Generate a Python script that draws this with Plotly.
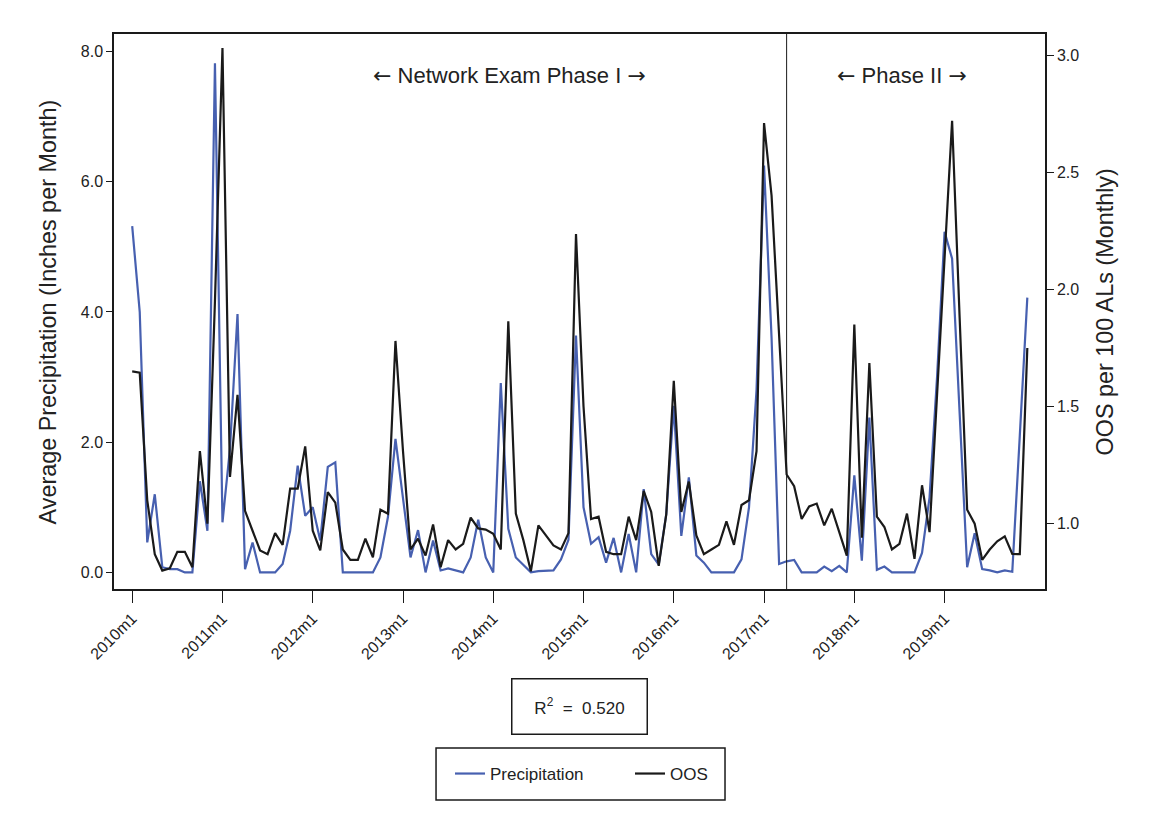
import plotly.graph_objects as go

# Monthly observations, 2010m1 .. 2019m12
months = [f"{yr}m{m}" for yr in range(2010, 2020) for m in range(1, 13)]

# Average precipitation (inches per month)
precipitation = [
    5.32, 4.00, 0.46, 1.20, 0.08, 0.05, 0.05, 0.00, 0.00, 1.40, 0.64, 7.82,
    0.77, 1.90, 3.97, 0.05, 0.46, 0.00, 0.00, 0.00, 0.13, 0.64, 1.64, 0.87,
    1.00, 0.49, 1.62, 1.69, 0.00, 0.00, 0.00, 0.00, 0.00, 0.23, 0.85, 2.05,
    1.10, 0.23, 0.65, 0.00, 0.49, 0.03, 0.06, 0.03, 0.00, 0.23, 0.81, 0.23,
    0.00, 2.91, 0.67, 0.23, 0.12, 0.00, 0.02, 0.03, 0.03, 0.20, 0.50, 3.64,
    1.00, 0.44, 0.54, 0.15, 0.53, 0.00, 0.59, 0.00, 1.28, 0.28, 0.12, 0.90,
    2.56, 0.56, 1.46, 0.26, 0.15, 0.00, 0.00, 0.00, 0.00, 0.20, 1.00, 2.80,
    6.25, 3.60, 0.13, 0.17, 0.19, 0.00, 0.00, 0.00, 0.09, 0.02, 0.10, 0.00,
    1.49, 0.18, 2.38, 0.04, 0.09, 0.00, 0.00, 0.00, 0.00, 0.30, 1.15, 3.00,
    5.23, 4.82, 2.40, 0.08, 0.60, 0.05, 0.03, 0.00, 0.03, 0.01, 2.10, 4.22,
]

# OOS per 100 ALs (monthly)
oos = [
    1.650, 1.645, 1.100, 0.870, 0.800, 0.810, 0.880, 0.880, 0.814, 1.310, 1.000, 1.950,
    3.030, 1.200, 1.550, 1.055, 0.970, 0.886, 0.870, 0.960, 0.910, 1.150, 1.150, 1.330,
    0.970, 0.886, 1.135, 1.090, 0.890, 0.846, 0.846, 0.936, 0.857, 1.060, 1.043, 1.780,
    1.310, 0.890, 0.936, 0.864, 0.997, 0.814, 0.930, 0.890, 0.914, 1.026, 0.980, 0.975,
    0.957, 0.890, 1.864, 1.043, 0.930, 0.797, 0.993, 0.950, 0.907, 0.890, 0.960, 2.236,
    1.500, 1.020, 1.030, 0.880, 0.870, 0.870, 1.030, 0.930, 1.140, 1.050, 0.820, 1.040,
    1.610, 1.050, 1.180, 0.950, 0.870, 0.890, 0.910, 1.010, 0.910, 1.080, 1.100, 1.310,
    2.710, 2.400, 1.780, 1.210, 1.160, 1.020, 1.074, 1.086, 0.993, 1.064, 0.964, 0.864,
    1.850, 0.940, 1.686, 1.030, 0.986, 0.890, 0.914, 1.043, 0.850, 1.164, 0.964, 1.540,
    2.150, 2.720, 1.880, 1.060, 1.000, 0.846, 0.890, 0.925, 0.946, 0.871, 0.870, 1.750,
]

tick_labels = ["2010m1", "2011m1", "2012m1", "2013m1", "2014m1",
               "2015m1", "2016m1", "2017m1", "2018m1", "2019m1"]
phase_break = "2017m4"
r_squared = 0.520

BLUE = "#4760b0"
INK = "#1a1a1a"
FONT = "Liberation Sans, Arial, sans-serif"
ARROW_STYLE = "font-family:DejaVu Sans"
LEFT_ARROW = f'<span style="{ARROW_STYLE}">\u2190</span>'
RIGHT_ARROW = f'<span style="{ARROW_STYLE}">\u2192</span>'

fig = go.Figure()
fig.add_trace(go.Scatter(
    x=months, y=precipitation, name="Precipitation", mode="lines",
    line=dict(color=BLUE, width=2.2), yaxis="y",
))
fig.add_trace(go.Scatter(
    x=months, y=oos, name="OOS", mode="lines",
    line=dict(color=INK, width=2.2), yaxis="y2",
))

# Phase boundary
fig.add_shape(type="line", xref="x", yref="paper", x0=phase_break, x1=phase_break,
              y0=0, y1=1, line=dict(color=INK, width=1))

# Phase captions
fig.add_annotation(x=50.2, y=0.926, xref="x", yref="paper",
                   xanchor="center", yanchor="middle",
                   text=f"{LEFT_ARROW} Network Exam Phase I {RIGHT_ARROW}", showarrow=False,
                   font=dict(size=22, color="#222", family=FONT))
fig.add_annotation(x=102.4, y=0.926, xref="x", yref="paper",
                   xanchor="center", yanchor="middle",
                   text=f"{LEFT_ARROW} Phase II {RIGHT_ARROW}", showarrow=False,
                   font=dict(size=22, color="#222", family=FONT))

# Axis titles
fig.add_annotation(x=-0.0709, y=0.5, xref="paper", yref="paper", textangle=-90,
                   xanchor="center", yanchor="middle",
                   text="Average Precipitation (Inches per Month)", showarrow=False,
                   font=dict(size=23.4, color="#222", family=FONT))
fig.add_annotation(x=1.0644, y=0.5, xref="paper", yref="paper", textangle=-90,
                   xanchor="center", yanchor="middle",
                   text="OOS per 100 ALs (Monthly)", showarrow=False,
                   font=dict(size=23.4, color="#222", family=FONT))

# R-squared box
fig.add_annotation(x=0.5005, y=-0.2117, xref="paper", yref="paper",
                   xanchor="center", yanchor="middle",
                   text=f"R<sup>2</sup>  =  {r_squared:.3f}", showarrow=False,
                   width=132, height=52, borderpad=1, borderwidth=1.5,
                   bordercolor=INK, bgcolor="white",
                   font=dict(size=17, color="#222", family=FONT))

# Frame around the legend
fig.add_shape(type="rect", xref="paper", yref="paper",
              x0=0.3459, x1=0.6563, y0=-0.2865, y1=-0.3802,
              line=dict(color=INK, width=1.5))

fig.update_layout(
    width=1151, height=838,
    margin=dict(l=114, r=106, t=34, b=249),
    paper_bgcolor="white", plot_bgcolor="white",
    font=dict(family=FONT, size=16, color="#222"),
    showlegend=True,
    legend=dict(orientation="h", x=0.3609, y=-0.3333, xanchor="left", yanchor="middle",
                font=dict(size=17, color="#222", family=FONT),
                entrywidth=135, entrywidthmode="pixels",
                bgcolor="rgba(0,0,0,0)", borderwidth=0),
    xaxis=dict(
        type="category", range=[-2.42, 121.35],
        tickmode="array", tickvals=tick_labels, ticktext=tick_labels,
        tickangle=-45, ticks="outside", ticklen=12, tickwidth=1.2, tickcolor=INK,
        showline=True, linecolor=INK, linewidth=1.5, mirror=True,
        showgrid=False, zeroline=False,
        tickfont=dict(size=16, color="#222", family=FONT),
    ),
    yaxis=dict(
        range=[-0.255, 8.27], tickvals=[0, 2, 4, 6, 8], tickformat=".1f",
        ticks="outside", ticklen=6, tickwidth=1.2, tickcolor=INK,
        showline=True, linecolor=INK, linewidth=1.5,
        showgrid=False, zeroline=False,
        tickfont=dict(size=16, color="#222", family=FONT),
    ),
    yaxis2=dict(
        range=[0.7214, 3.09], tickvals=[1.0, 1.5, 2.0, 2.5, 3.0], tickformat=".1f",
        overlaying="y", side="right",
        ticks="outside", ticklen=7, tickwidth=1.2, tickcolor=INK,
        showline=True, linecolor=INK, linewidth=1.5,
        showgrid=False, zeroline=False,
        tickfont=dict(size=16, color="#222", family=FONT),
    ),
)

fig.write_html("out.html")
